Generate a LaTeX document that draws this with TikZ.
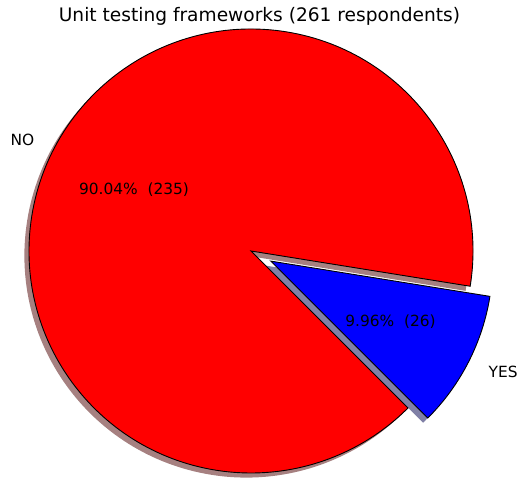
\documentclass[tikz,border=0pt]{standalone}
\usepackage{fontspec}
\setmainfont{DejaVu Sans}
\usetikzlibrary{calc}
\definecolor{noshadow}{RGB}{166,128,128}
\definecolor{yesshadow}{RGB}{128,128,166}
\begin{document}
\begin{tikzpicture}[x=1pt,y=1pt,
  wedge/.style={draw=black,line width=0.9pt,line join=miter},
  lbl/.style={font=\fontsize{15.4}{18}\selectfont,inner sep=0pt},
  pct/.style={font=\fontsize{15.4}{18}\selectfont,inner sep=0pt}]
\useasboundingbox (0,0) rectangle (520,479);
% centers
\coordinate (c) at (251,228);
\coordinate (cy) at ($(251,228)+(-27.07:22.2)$);
\coordinate (cs) at (246.4,223.4);
\coordinate (cys) at ($(246.4,223.4)+(-27.07:22.2)$);
% shadows
\fill[noshadow] (cs) -- ++(-9.14:222) arc[start angle=-9.14,end angle=315,radius=222] -- cycle;
\fill[yesshadow] (cys) -- ++(-45:222) arc[start angle=-45,end angle=-9.14,radius=222] -- cycle;
% wedges
\filldraw[wedge,fill=red] (c) -- ++(-9.14:222) arc[start angle=-9.14,end angle=315,radius=222] -- cycle;
\filldraw[wedge,fill=blue] (cy) -- ++(-45:222) arc[start angle=-45,end angle=-9.14,radius=222] -- cycle;
% labels
\node[lbl,anchor=east] (nolbl) at (34.5,339.5) {NO};
\node[lbl,anchor=west] (yeslbl) at (488.5,107) {YES};
\node[pct] (nopct) at (134,289.5) {90.04\%\ \ (235)};
\node[pct] (yespct) at (390.5,157.5) {9.96\%\ \ (26)};
\node[font=\fontsize{18.6}{22}\selectfont,inner sep=0pt] (title) at (259.5,463) {Unit testing frameworks (261 respondents)};
\end{tikzpicture}
\end{document}
